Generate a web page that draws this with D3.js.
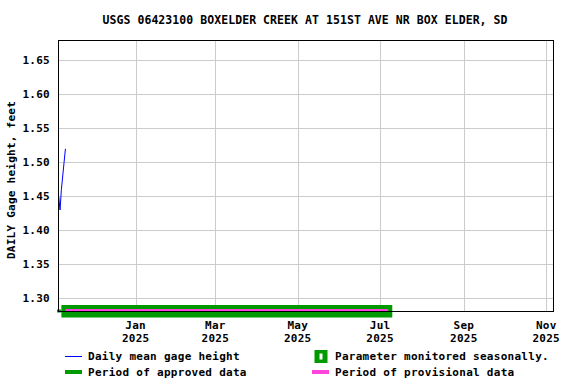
<!DOCTYPE html>
<html>
<head>
<meta charset="utf-8">
<script src="https://cdn.jsdelivr.net/npm/d3@7"></script>
<style>
  body { margin: 0; background: #fff; }
  text { font-family: "DejaVu Sans Mono", monospace; font-weight: bold; fill: #000; }
</style>
</head>
<body>
<svg id="chart" width="576" height="384"></svg>
<script>
// Daten
const titleText = 'USGS 06423100 BOXELDER CREEK AT 151ST AVE NR BOX ELDER, SD';
const yLabel = 'DAILY Gage height, feet';

const days = ['2024-11-05', '2024-11-06', '2024-11-07', '2024-11-08', '2024-11-09', '2024-11-10'];
const gageHeight = [1.45, 1.43, 1.46, 1.48, 1.50, 1.52];

const approvedPeriod = ['2024-11-07', '2025-07-10'];
const provisionalPeriod = ['2024-11-10', '2025-07-07'];

const yTicks = [1.30, 1.35, 1.40, 1.45, 1.50, 1.55, 1.60, 1.65];
const xTicks = ['2025-01-01', '2025-03-01', '2025-05-01', '2025-07-01', '2025-09-01', '2025-11-01'];
const xTickMonths = ['Jan', 'Mar', 'May', 'Jul', 'Sep', 'Nov'];
const xTickYears = ['2025', '2025', '2025', '2025', '2025', '2025'];

const legendItems = [
  { label: 'Daily mean gage height', type: 'line', color: '#0000ff' },
  { label: 'Parameter monitored seasonally.', type: 'box', color: '#009900' },
  { label: 'Period of approved data', type: 'bar', color: '#009900' },
  { label: 'Period of provisional data', type: 'bar', color: '#ff44dd' },
];

// Layout
const plot = { left: 58, right: 554, top: 40, bottom: 312 };
const parse = d3.utcParse('%Y-%m-%d');

const svg = d3.select('#chart');

const x = d3.scaleUtc()
  .domain([new Date(Date.UTC(2024, 10, 4, 12)), new Date(Date.UTC(2025, 10, 6, 18))])
  .range([plot.left, plot.right]);

const y = d3.scaleLinear()
  .domain([1.28, 1.68])
  .range([plot.bottom, plot.top]);

// Titel
svg.append('text')
  .attr('x', 305)
  .attr('y', 24)
  .attr('text-anchor', 'middle')
  .attr('font-size', 11.5)
  .attr('textLength', 405)
  .attr('lengthAdjust', 'spacing')
  .text(titleText);

// Gitter
svg.append('g')
  .selectAll('line')
  .data(yTicks)
  .join('line')
  .attr('x1', plot.left)
  .attr('x2', plot.right)
  .attr('y1', (d) => Math.round(y(d)) + 0.5)
  .attr('y2', (d) => Math.round(y(d)) + 0.5)
  .attr('stroke', '#cccccc');

svg.append('g')
  .selectAll('line')
  .data(xTicks.map(parse))
  .join('line')
  .attr('x1', (d) => Math.round(x(d)) + 0.5)
  .attr('x2', (d) => Math.round(x(d)) + 0.5)
  .attr('y1', plot.top)
  .attr('y2', plot.bottom)
  .attr('stroke', '#cccccc');

// Perioden-Balken
const barY = plot.bottom - 0.5;
svg.append('rect')
  .attr('x', plot.left - 1)
  .attr('y', barY - 2)
  .attr('width', x(parse(approvedPeriod[0])) - plot.left + 1)
  .attr('height', 3)
  .attr('fill', '#009900');

svg.append('rect')
  .attr('x', x(parse(approvedPeriod[0])))
  .attr('y', barY - 6.5)
  .attr('width', x(parse(approvedPeriod[1])) - x(parse(approvedPeriod[0])))
  .attr('height', 12.5)
  .attr('fill', '#009900');

svg.append('rect')
  .attr('x', x(parse(provisionalPeriod[0])))
  .attr('y', barY - 2.5)
  .attr('width', x(parse(provisionalPeriod[1])) - x(parse(provisionalPeriod[0])))
  .attr('height', 3)
  .attr('fill', '#ff44dd');

// Datenlinie
const line = d3.line()
  .x((d, i) => x(parse(days[i])))
  .y((d) => y(d));

svg.append('path')
  .datum(gageHeight)
  .attr('d', line)
  .attr('fill', 'none')
  .attr('stroke', '#0000ff')
  .attr('stroke-width', 1);

// Rahmen
svg.append('rect')
  .attr('x', plot.left + 0.5)
  .attr('y', plot.top + 0.5)
  .attr('width', plot.right - plot.left - 1)
  .attr('height', plot.bottom - plot.top - 1)
  .attr('fill', 'none')
  .attr('stroke', '#000')
  .attr('stroke-width', 1);

// Y-Achse
svg.append('g')
  .selectAll('text')
  .data(yTicks)
  .join('text')
  .attr('x', 50)
  .attr('y', (d) => y(d) + 4)
  .attr('text-anchor', 'end')
  .attr('font-size', 11)
  .attr('letter-spacing', 0.25)
  .text((d) => d3.format('.2f')(d));

svg.append('text')
  .attr('transform', 'translate(15,180) rotate(-90)')
  .attr('text-anchor', 'middle')
  .attr('font-size', 11)
  .attr('letter-spacing', 0.25)
  .text(yLabel);

// X-Achse
const xt = svg.append('g')
  .selectAll('g')
  .data(xTicks.map(parse))
  .join('g')
  .attr('transform', (d) => `translate(${x(d)},0)`);

xt.append('text')
  .attr('y', 329)
  .attr('text-anchor', 'middle')
  .attr('font-size', 11)
  .attr('letter-spacing', 0.25)
  .text((d, i) => xTickMonths[i]);

xt.append('text')
  .attr('y', 342)
  .attr('text-anchor', 'middle')
  .attr('font-size', 11)
  .attr('letter-spacing', 0.25)
  .text((d, i) => xTickYears[i]);

// Legende
const legendPos = [
  { x: 65, y: 356 },
  { x: 312, y: 356 },
  { x: 65, y: 372 },
  { x: 312, y: 372 },
];

const lg = svg.append('g')
  .selectAll('g')
  .data(legendItems)
  .join('g')
  .attr('transform', (d, i) => `translate(${legendPos[i].x},${legendPos[i].y})`);

lg.each(function (d) {
  const g = d3.select(this);
  if (d.type === 'line') {
    g.append('line').attr('x1', 0).attr('x2', 17).attr('y1', 0.5).attr('y2', 0.5)
      .attr('stroke', d.color).attr('stroke-width', 1);
  } else if (d.type === 'bar') {
    g.append('rect').attr('x', 0).attr('y', -2).attr('width', 17).attr('height', 4)
      .attr('fill', d.color);
  } else {
    g.append('rect').attr('x', 2.5).attr('y', -6).attr('width', 13).attr('height', 13)
      .attr('fill', d.color);
    g.append('rect').attr('x', 7.5).attr('y', -2.5).attr('width', 3).attr('height', 6)
      .attr('fill', '#fff');
  }
  g.append('text')
    .attr('x', 23)
    .attr('y', 4)
    .attr('font-size', 11)
    .attr('letter-spacing', 0.28)
    .text(d.label);
});
</script>
</body>
</html>
